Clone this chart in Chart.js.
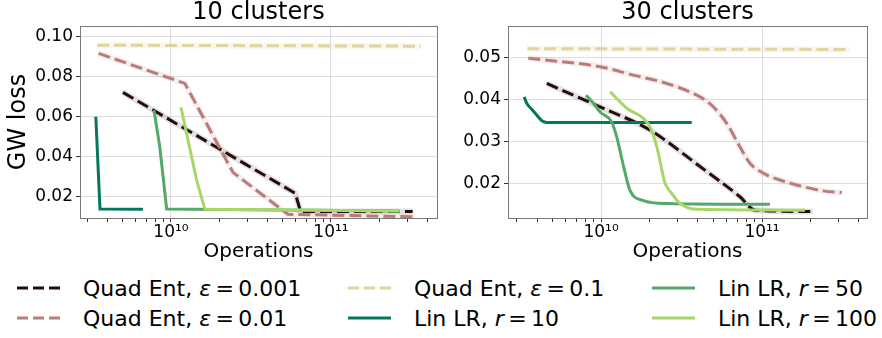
<!DOCTYPE html>
<html>
<head>
<meta charset="utf-8">
<script src="https://cdn.jsdelivr.net/npm/chart.js@4.4.0/dist/chart.umd.min.js"></script>
<style>
  body { margin: 0; background: #fff; font-family: "DejaVu Sans", sans-serif; }
  #wrap { position: relative; width: 882px; height: 338px; overflow: hidden; }
  .panel { position: absolute; top: 0; width: 441px; height: 262px; }
  .leg { position: absolute; height: 24px; display: flex; align-items: center; font-size: 22px; color: #000; white-space: nowrap; }
  .leg svg { margin-right: 23px; }
</style>
</head>
<body>
<div id="wrap">
  <div class="panel" style="left:0"><canvas id="c10" width="441" height="262"></canvas></div>
  <div class="panel" style="left:441px"><canvas id="c30" width="441" height="262"></canvas></div>
  <div id="legend"></div>
</div>
<script>
// ---- 10 clusters ----
var l10_q001_x = [5.01e9, 5.98e10, 6.46e10, 3.24e11];
var l10_q001_y = [0.0722, 0.0217, 0.0126, 0.0126];
var l10_q01_x = [3.53e9, 1.22e10, 2.44e10, 5.38e10, 3.35e11];
var l10_q01_y = [0.0917, 0.0767, 0.0322, 0.0112, 0.0099];
var l10_q1_x = [3.45e9, 3.65e11];
var l10_q1_y = [0.0958, 0.0953];
var l10_r10_x = [3.39e9, 3.60e9, 6.68e9];
var l10_r10_y = [0.0600, 0.0138, 0.0137];
var l10_r50_x = [7.83e9, 8.51e9, 9.40e9, 3.16e10, 2.69e11];
var l10_r50_y = [0.0634, 0.0450, 0.0138, 0.0135, 0.0128];
var l10_r100_x = [1.155e10, 1.445e10, 1.63e10, 2.69e11];
var l10_r100_y = [0.0647, 0.0284, 0.0137, 0.0129];

// ---- 30 clusters ----
var l30_q001_x = [4.60e9, 9.86e9, 2.01e10, 4.12e10, 7.29e10, 9.06e10, 2.07e11];
var l30_q001_y = [0.0438, 0.0382, 0.0327, 0.0240, 0.0168, 0.0136, 0.0133];
var l30_q01_x = [3.53e9, 9.86e9, 1.585e10, 2.56e10, 4.12e10, 4.99e10, 6.03e10, 7.29e10, 8.41e10, 1.02e11, 1.29e11, 2.40e11, 3.13e11];
var l30_q01_y = [0.0498, 0.0478, 0.0458, 0.0438, 0.0406, 0.0382, 0.0343, 0.0287, 0.0248, 0.0224, 0.0208, 0.0182, 0.0178];
var l30_q1_x = [3.48e9, 3.52e11];
var l30_q1_y = [0.0521, 0.0519];
var l30_r10_x = [3.33e9, 3.45e9, 3.72e9, 3.98e9, 4.29e9, 4.60e9, 3.66e10];
var l30_r10_y = [0.0406, 0.0391, 0.0376, 0.0363, 0.0349, 0.0345, 0.0345];
var l30_r50_x = [8.07e9, 9.18e9, 9.86e9, 1.16e10, 1.25e10, 1.38e10, 1.51e10, 1.83e10, 2.56e10, 1.12e11];
var l30_r50_y = [0.0410, 0.0386, 0.0370, 0.0347, 0.0311, 0.0240, 0.0184, 0.0159, 0.0152, 0.0150];
var l30_r100_x = [1.14e10, 1.445e10, 1.83e10, 2.01e10, 2.22e10, 2.50e10, 2.75e10, 3.10e10, 3.93e10, 1.85e11];
var l30_r100_y = [0.0418, 0.0379, 0.0355, 0.0335, 0.0287, 0.0200, 0.0176, 0.0152, 0.0138, 0.0136];

// axis ticks
var opsTicks = [3e9, 4e9, 5e9, 6e9, 7e9, 8e9, 9e9, 1e10, 2e10, 3e10, 4e10, 5e10, 6e10, 7e10, 8e10, 9e10, 1e11, 2e11, 3e11, 4e11];
var opsLabels = { 1e10: '10\u00b9\u2070', 1e11: '10\u00b9\u00b9' };
var gw10Ticks = [0.02, 0.04, 0.06, 0.08, 0.10];
var gw30Ticks = [0.02, 0.03, 0.04, 0.05];

var series = [
  { name: 'Quad Ent, <i>\u03b5</i>\u2009=\u20090.001', color: '#250b0b', band: 'rgba(40,20,20,0.13)', dash: true },
  { name: 'Quad Ent, <i>\u03b5</i>\u2009=\u20090.01', color: '#bb7b7b', band: 'rgba(187,123,123,0.13)', dash: true },
  { name: 'Quad Ent, <i>\u03b5</i>\u2009=\u20090.1', color: '#e2d4a0', band: 'rgba(226,212,160,0.22)', dash: true },
  { name: 'Lin LR, <i>r</i>\u2009=\u200910', color: '#04785c', dash: false },
  { name: 'Lin LR, <i>r</i>\u2009=\u200950', color: '#54a968', dash: false },
  { name: 'Lin LR, <i>r</i>\u2009=\u2009100', color: '#a7d766', dash: false }
];

function pts(xs, ys) {
  return xs.map(function (x, i) { return { x: x, y: ys[i] }; });
}

function buildSets(lines, smooth) {
  var sets = [];
  var mode = smooth ? 'monotone' : 'default';
  lines.forEach(function (d, i) {
    var s = series[i];
    if (s.band) {
      sets.push({ data: d, borderColor: s.band, borderWidth: 6, pointRadius: 0, tension: 0,
        cubicInterpolationMode: mode, order: 20 });
    }
    sets.push({
      data: d, borderColor: s.color, borderWidth: 3, pointRadius: 0, tension: 0,
      cubicInterpolationMode: mode, borderDash: s.dash ? [12, 5] : [], order: 6 - i
    });
  });
  return sets;
}

// matplotlib-like box around the plot area, plus the panel title centred on it
var frame = {
  id: 'frame',
  afterDraw: function (chart) {
    var a = chart.chartArea, ctx = chart.ctx;
    ctx.save();
    ctx.strokeStyle = '#7a7a7a';
    ctx.lineWidth = 1;
    ctx.strokeRect(Math.round(a.left) + 0.5, Math.round(a.top) + 0.5, Math.round(a.right - a.left), Math.round(a.bottom - a.top));
    ctx.fillStyle = '#000';
    ctx.font = '24px "DejaVu Sans"';
    ctx.textAlign = 'center';
    ctx.textBaseline = 'middle';
    ctx.fillText(chart.options.panelTitle, (a.left + a.right) / 2, 13);
    ctx.restore();
  }
};

function makeChart(id, title, lines, smooth, xr, yr, yTicks, yAxisW, padRight, yTitle) {
  return new Chart(document.getElementById(id), {
    type: 'line',
    data: { datasets: buildSets(lines, smooth) },
    plugins: [frame],
    options: {
      panelTitle: title,
      responsive: false,
      animation: false,
      devicePixelRatio: 1,
      layout: { padding: { top: 26, right: padRight, bottom: 0, left: 0 } },
      plugins: {
        legend: { display: false },
        tooltip: { enabled: false },
        title: { display: false }
      },
      scales: {
        x: {
          type: 'logarithmic', min: xr[0], max: xr[1],
          afterBuildTicks: function (s) { s.ticks = opsTicks.map(function (v) { return { value: v }; }); },
          afterFit: function (s) { s.height = 44; },
          border: { display: false },
          grid: {
            color: function (c) { return opsLabels[c.tick && c.tick.value] ? '#dddddd' : 'rgba(0,0,0,0)'; },
            tickColor: '#333', tickLength: 4
          },
          ticks: {
            autoSkip: false, maxRotation: 0, padding: 0, color: '#000',
            font: { family: 'DejaVu Sans', size: 17 },
            callback: function (v) { return opsLabels[v] || ''; }
          },
          title: {
            display: true, text: 'Operations', color: '#000',
            font: { family: 'DejaVu Sans', size: 20, lineHeight: 1.0 },
            padding: { top: 0, bottom: 0 }
          }
        },
        y: {
          min: yr[0], max: yr[1],
          afterBuildTicks: function (s) { s.ticks = yTicks.map(function (v) { return { value: v }; }); },
          afterFit: function (s) { s.width = yAxisW; },
          border: { display: false },
          grid: { color: '#dddddd', tickColor: '#333', tickLength: 4 },
          ticks: {
            padding: 3, color: '#000',
            font: { family: 'DejaVu Sans', size: 17 },
            callback: function (v) { return v.toFixed(2); }
          },
          title: {
            display: !!yTitle, text: yTitle || '', color: '#000',
            font: { family: 'DejaVu Sans', size: 24, lineHeight: 1.2 },
            padding: { top: 4, bottom: 0 }
          }
        }
      }
    }
  });
}

makeChart('c10', '10 clusters', [
  pts(l10_q001_x, l10_q001_y), pts(l10_q01_x, l10_q01_y), pts(l10_q1_x, l10_q1_y),
  pts(l10_r10_x, l10_r10_y), pts(l10_r50_x, l10_r50_y), pts(l10_r100_x, l10_r100_y)
], false, [2.70e9, 4.60e11], [0.00935, 0.1054], gw10Ticks, 80, 4, 'GW loss');

makeChart('c30', '30 clusters', [
  pts(l30_q001_x, l30_q001_y), pts(l30_q01_x, l30_q01_y), pts(l30_q1_x, l30_q1_y),
  pts(l30_r10_x, l30_r10_y), pts(l30_r50_x, l30_r50_y), pts(l30_r100_x, l30_r100_y)
], true, [2.64e9, 4.49e11], [0.01174, 0.0575], gw30Ticks, 67, 15, null);

// legend: three columns, two rows, below both panels
var legPos = [[17, 276], [17, 306], [348, 276], [348, 306], [652, 276], [652, 306]];
var legHtml = '';
series.forEach(function (s, i) {
  var dash = s.dash ? ' stroke-dasharray="11 5"' : '';
  legHtml += '<div class="leg" style="left:' + legPos[i][0] + 'px;top:' + legPos[i][1] + 'px">' +
    '<svg width="43" height="6"><line x1="0" y1="3" x2="43" y2="3" stroke="' + s.color + '" stroke-width="3"' + dash + '/></svg>' +
    '<span>' + s.name + '</span></div>';
});
document.getElementById('legend').innerHTML = legHtml;
</script>
</body>
</html>
